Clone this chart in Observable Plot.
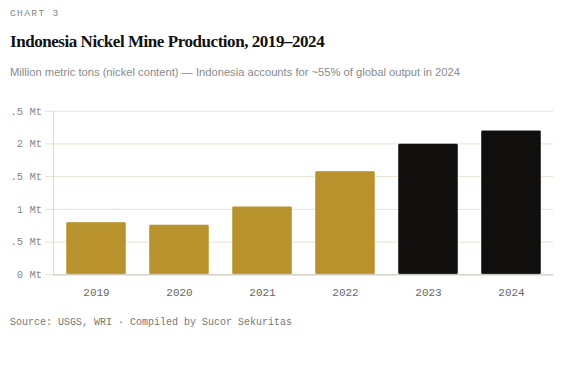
<!DOCTYPE html>
<html>
<head>
<meta charset="utf-8">
<script src="https://cdn.jsdelivr.net/npm/d3@7"></script>
<script src="https://cdn.jsdelivr.net/npm/@observablehq/plot@0.6"></script>
<style>
  html, body { margin: 0; padding: 0; background: #fff; }
  body { width: 563px; height: 368px; position: relative; overflow: hidden; }
  .kicker { position: absolute; left: 10px; top: 8px; font: 9.5px "Liberation Mono", monospace; letter-spacing: 1.4px; color: #858585; line-height: 12px; }
  .title { position: absolute; left: 10px; top: 32px; font: bold 17px "Liberation Serif", serif; color: #111; line-height: 20px; letter-spacing: -0.45px; }
  .subtitle { position: absolute; left: 10px; top: 64px; font: 11.2px "Liberation Sans", sans-serif; color: #8a8a8a; line-height: 16px; }
  #chart { position: absolute; left: 10px; top: 90px; }
  .caption { position: absolute; left: 10px; top: 316px; font: 10px "Liberation Mono", monospace; color: #777; line-height: 14px; }
</style>
</head>
<body>
<div class="kicker">CHART 3</div>
<div class="title">Indonesia Nickel Mine Production, 2019–2024</div>
<div class="subtitle">Million metric tons (nickel content) — Indonesia accounts for ~55% of global output in 2024</div>
<div id="chart"></div>
<div class="caption">Source: USGS, WRI · Compiled by Sucor Sekuritas</div>
<script>
const years = ["2019", "2020", "2021", "2022", "2023", "2024"];
const production = [0.80, 0.76, 1.04, 1.58, 2.00, 2.20];
const highlight = [false, false, false, false, true, true];
const yTicks = [0, 0.5, 1, 1.5, 2, 2.5];

const data = years.map((y, i) => ({year: y, value: production[i], hi: highlight[i]}));

const plot = Plot.plot({
  width: 543,
  height: 215,
  marginTop: 20.7,
  marginBottom: 30.7,
  marginLeft: 43,
  marginRight: 0,
  style: {background: "transparent"},
  x: {domain: years, paddingInner: 0.28, paddingOuter: 0.14, label: null},
  y: {domain: [0, 2.5], label: null},
  marks: [
    Plot.gridY(yTicks, {stroke: "#e8e1d0", strokeOpacity: 1}),
    Plot.frame({anchor: "left", stroke: "#dcdcdc"}),
    Plot.axisY(yTicks, {
      tickSize: 8, tickPadding: 3.5, stroke: "#e8e1d0", strokeOpacity: 1,
      tickFormat: d => `${d} Mt`,
      fontFamily: "Liberation Mono, monospace", fontSize: 10.5, fill: "#888", label: null
    }),
    Plot.barY(data, {
      x: "year", y: "value",
      fill: d => d.hi ? "#100f0d" : "#b8932d",
      stroke: "white", strokeOpacity: 0.45, strokeWidth: 1, rx: 1.5
    }),
    Plot.ruleY([0], {stroke: "#c9c5bd"}),
    Plot.axisX({
      tickSize: 0, tickPadding: 13,
      fontFamily: "Liberation Mono, monospace", fontSize: 11, fill: "#666", label: null
    })
  ]
});
document.getElementById("chart").appendChild(plot);
</script>
</body>
</html>
